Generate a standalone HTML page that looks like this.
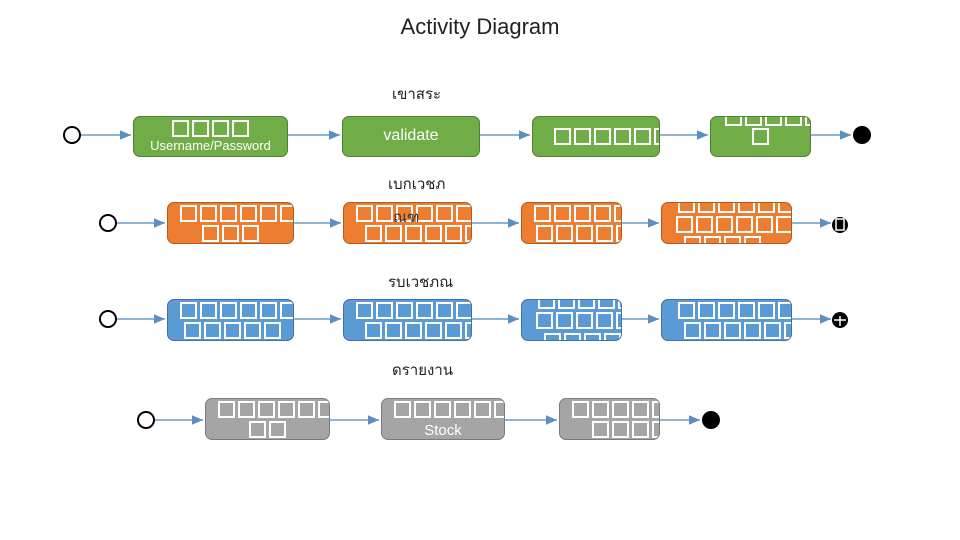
<!DOCTYPE html>
<html><head><meta charset="utf-8">
<style>
body{margin:0;width:960px;height:540px;background:#fff;position:relative;overflow:hidden;font-family:"Liberation Sans","DejaVu Sans",sans-serif}
.b{position:absolute;border-radius:7px;overflow:hidden;box-sizing:border-box;color:#fff;text-align:center;white-space:nowrap}
.g{background:#70AD47;border:1.5px solid #507E32}
.o{background:#ED7D31;border:1.5px solid #AE5A21}
.u{background:#5B9BD5;border:1.5px solid #41719C}
.y{background:#A5A5A5;border:1.5px solid #7B7B7B}
.t{display:inline-block;width:13px;height:13px;border:2px solid #fff;margin:0 1.5px;vertical-align:middle}
.l{position:absolute;left:0;right:0;height:20px;line-height:20px;font-size:15px}
.lab{position:absolute;font-family:"DejaVu Sans","Noto Sans CJK SC",sans-serif;font-size:15px;color:#222}
</style></head><body>
<div style="position:absolute;left:0;width:960px;top:14px;text-align:center;font-size:22px;color:#222">Activity Diagram</div>

<svg width="960" height="540" style="position:absolute;left:0;top:0">
<defs><marker id="a" markerWidth="8" markerHeight="8" refX="7" refY="4" orient="auto"><path d="M0,1 L7,4 L0,7z" fill="#5B8FC4"/></marker></defs>
<g stroke="#6A9BCB" stroke-width="1.6" marker-end="url(#a)">
<line x1="80" y1="135" x2="131" y2="135"/>
<line x1="288" y1="135" x2="340" y2="135"/>
<line x1="480" y1="135" x2="530" y2="135"/>
<line x1="660" y1="135" x2="708" y2="135"/>
<line x1="800" y1="135" x2="851" y2="135"/>
<line x1="116" y1="223" x2="165" y2="223"/>
<line x1="294" y1="223" x2="341" y2="223"/>
<line x1="472" y1="223" x2="519" y2="223"/>
<line x1="610" y1="223" x2="659" y2="223"/>
<line x1="780" y1="223" x2="831" y2="223"/>
<line x1="116" y1="319" x2="165" y2="319"/>
<line x1="294" y1="319" x2="341" y2="319"/>
<line x1="472" y1="319" x2="519" y2="319"/>
<line x1="610" y1="319" x2="659" y2="319"/>
<line x1="792" y1="319" x2="831" y2="319"/>
<line x1="154" y1="420" x2="203" y2="420"/>
<line x1="330" y1="420" x2="379" y2="420"/>
<line x1="505" y1="420" x2="557" y2="420"/>
<line x1="650" y1="420" x2="700" y2="420"/>
</g>
<g fill="#fff" stroke="#000" stroke-width="2">
<circle cx="72" cy="135" r="8"/><circle cx="108" cy="223" r="8"/><circle cx="108" cy="319" r="8"/><circle cx="146" cy="420" r="8"/>
</g>
<g fill="#000"><circle cx="862" cy="135" r="9"/><circle cx="840" cy="225" r="8"/><circle cx="840" cy="320" r="8"/><circle cx="711" cy="420" r="9"/></g>
<rect x="836" y="219" width="8" height="11" fill="none" stroke="#fff" stroke-width="1.5"/>
<path d="M834,320 h12 M840,316 v10" stroke="#fff" stroke-width="1.5"/>
</svg>

<div class="lab" style="left:392px;top:82px">เขาสระ</div>
<div class="lab" style="left:388px;top:172px">เบกเวชภ</div>
<div class="lab" style="left:388px;top:270px">รบเวชภณ</div>
<div class="lab" style="left:392px;top:358px">ดรายงาน</div>

<!-- row 1 -->
<div class="b g" style="left:133px;top:116px;width:155px;height:41px"><div class="l" style="top:1px"><span class="t"></span><span class="t"></span><span class="t"></span><span class="t"></span></div><div class="l" style="top:19px;font-size:13px">Username/Password</div></div>
<div class="b g" style="left:342px;top:116px;width:138px;height:41px"><div class="l" style="top:9px;font-size:16px">validate</div></div>
<div class="b g" style="left:532px;top:116px;width:128px;height:41px"><div class="l" style="top:9px;text-align:left;padding-left:19px"><span class="t"></span><span class="t"></span><span class="t"></span><span class="t"></span><span class="t"></span><span class="t"></span></div></div>
<div class="b g" style="left:710px;top:116px;width:101px;height:41px"><div class="l" style="top:-10px;text-align:left;padding-left:12px"><span class="t"></span><span class="t"></span><span class="t"></span><span class="t"></span><span class="t"></span></div><div class="l" style="top:9px"><span class="t"></span></div></div>

<!-- row 2 -->
<div class="b o" style="left:167px;top:202px;width:127px;height:42px"><div class="l" style="top:0px;text-align:left;padding-left:10px"><span class="t"></span><span class="t"></span><span class="t"></span><span class="t"></span><span class="t"></span><span class="t"></span></div><div class="l" style="top:20px"><span class="t"></span><span class="t"></span><span class="t"></span></div></div>
<div class="b o" style="left:343px;top:202px;width:129px;height:42px"><div class="l" style="top:0px;text-align:left;padding-left:10px"><span class="t"></span><span class="t"></span><span class="t"></span><span class="t"></span><span class="t"></span><span class="t"></span></div><div class="l" style="top:20px;text-align:left;padding-left:19px"><span class="t"></span><span class="t"></span><span class="t"></span><span class="t"></span><span class="t"></span><span class="t"></span></div></div>
<div class="lab" style="left:393px;top:205px;color:#333">ณฑ</div>
<div class="b o" style="left:521px;top:202px;width:101px;height:42px"><div class="l" style="top:0px;text-align:left;padding-left:10px"><span class="t"></span><span class="t"></span><span class="t"></span><span class="t"></span><span class="t"></span></div><div class="l" style="top:20px;text-align:left;padding-left:12px"><span class="t"></span><span class="t"></span><span class="t"></span><span class="t"></span><span class="t"></span></div></div>
<div class="b o" style="left:661px;top:202px;width:131px;height:42px"><div class="l" style="top:-9px;text-align:left;padding-left:14px"><span class="t"></span><span class="t"></span><span class="t"></span><span class="t"></span><span class="t"></span><span class="t"></span></div><div class="l" style="top:11px;text-align:left;padding-left:12px"><span class="t"></span><span class="t"></span><span class="t"></span><span class="t"></span><span class="t"></span><span class="t"></span></div><div class="l" style="top:31px;text-align:left;padding-left:20px"><span class="t"></span><span class="t"></span><span class="t"></span><span class="t"></span></div></div>

<!-- row 3 -->
<div class="b u" style="left:167px;top:299px;width:127px;height:42px"><div class="l" style="top:0px;text-align:left;padding-left:10px"><span class="t"></span><span class="t"></span><span class="t"></span><span class="t"></span><span class="t"></span><span class="t"></span></div><div class="l" style="top:20px;text-align:left;padding-left:14px"><span class="t"></span><span class="t"></span><span class="t"></span><span class="t"></span><span class="t"></span></div></div>
<div class="b u" style="left:343px;top:299px;width:129px;height:42px"><div class="l" style="top:0px;text-align:left;padding-left:10px"><span class="t"></span><span class="t"></span><span class="t"></span><span class="t"></span><span class="t"></span><span class="t"></span></div><div class="l" style="top:20px;text-align:left;padding-left:19px"><span class="t"></span><span class="t"></span><span class="t"></span><span class="t"></span><span class="t"></span><span class="t"></span></div></div>
<div class="b u" style="left:521px;top:299px;width:101px;height:42px"><div class="l" style="top:-10px;text-align:left;padding-left:14px"><span class="t"></span><span class="t"></span><span class="t"></span><span class="t"></span><span class="t"></span></div><div class="l" style="top:10px;text-align:left;padding-left:12px"><span class="t"></span><span class="t"></span><span class="t"></span><span class="t"></span><span class="t"></span></div><div class="l" style="top:31px;text-align:left;padding-left:20px"><span class="t"></span><span class="t"></span><span class="t"></span><span class="t"></span></div></div>
<div class="b u" style="left:661px;top:299px;width:131px;height:42px"><div class="l" style="top:0px;text-align:left;padding-left:14px"><span class="t"></span><span class="t"></span><span class="t"></span><span class="t"></span><span class="t"></span><span class="t"></span></div><div class="l" style="top:20px;text-align:left;padding-left:20px"><span class="t"></span><span class="t"></span><span class="t"></span><span class="t"></span><span class="t"></span><span class="t"></span></div></div>

<!-- row 4 -->
<div class="b y" style="left:205px;top:398px;width:125px;height:42px"><div class="l" style="top:0px;text-align:left;padding-left:10px"><span class="t"></span><span class="t"></span><span class="t"></span><span class="t"></span><span class="t"></span><span class="t"></span></div><div class="l" style="top:20px"><span class="t"></span><span class="t"></span></div></div>
<div class="b y" style="left:381px;top:398px;width:124px;height:42px"><div class="l" style="top:0px;text-align:left;padding-left:10px"><span class="t"></span><span class="t"></span><span class="t"></span><span class="t"></span><span class="t"></span><span class="t"></span></div><div class="l" style="top:22px;font-size:15px">Stock</div></div>
<div class="b y" style="left:559px;top:398px;width:101px;height:42px"><div class="l" style="top:0px;text-align:left;padding-left:10px"><span class="t"></span><span class="t"></span><span class="t"></span><span class="t"></span><span class="t"></span></div><div class="l" style="top:20px;text-align:left;padding-left:30px"><span class="t"></span><span class="t"></span><span class="t"></span><span class="t"></span></div></div>
</body></html>
